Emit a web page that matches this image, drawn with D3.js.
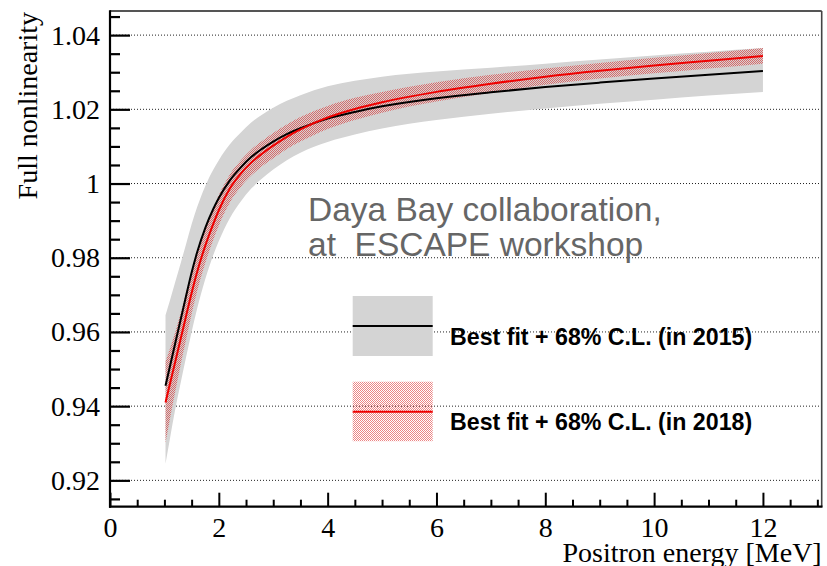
<!DOCTYPE html>
<html>
<head>
<meta charset="utf-8">
<script src="https://cdn.jsdelivr.net/npm/d3@7"></script>
<style>
  html, body { margin: 0; padding: 0; background: #fff; }
  svg { display: block; }
</style>
</head>
<body>
<svg id="chart" width="827" height="566"></svg>
<script>
// ---- data ----
const energy = [1.02,1.1,1.2,1.3,1.4,1.5,1.6,1.75,1.9,2.0,2.2,2.4,2.6,2.8,3.0,3.25,3.5,4,4.5,5,6,7,8,9,10,11,12];
const fit2015 = [0.9455,0.9506,0.9570,0.9634,0.9698,0.9760,0.9814,0.9880,0.9932,0.9961,1.0008,1.0043,1.0072,1.0094,1.0113,1.0133,1.0149,1.0175,1.0193,1.0208,1.0230,1.0246,1.0260,1.0272,1.0283,1.0293,1.0303];
const low2015 = [0.9245,0.9311,0.9392,0.9464,0.9533,0.9600,0.9662,0.9742,0.9808,0.9845,0.9906,0.9951,0.9987,1.0014,1.0038,1.0063,1.0083,1.0112,1.0132,1.0148,1.0171,1.0188,1.0202,1.0215,1.0226,1.0237,1.0247];
const high2015 = [0.9645,0.9684,0.9735,0.9786,0.9838,0.9890,0.9936,0.9993,1.0038,1.0063,1.0105,1.0137,1.0165,1.0186,1.0204,1.0223,1.0238,1.0262,1.0277,1.0288,1.0302,1.0312,1.0323,1.0334,1.0345,1.0355,1.0365];
const fit2018 = [0.9410,0.9459,0.9520,0.9582,0.9644,0.9705,0.9761,0.9832,0.9892,0.9928,0.9986,1.0026,1.0057,1.0081,1.0102,1.0126,1.0146,1.0178,1.0201,1.0219,1.0247,1.0269,1.0288,1.0304,1.0318,1.0331,1.0344];
const low2018 = [0.9300,0.9364,0.9440,0.9512,0.9581,0.9648,0.9709,0.9785,0.9849,0.9887,0.9948,0.9990,1.0022,1.0047,1.0068,1.0093,1.0113,1.0147,1.0171,1.0191,1.0221,1.0245,1.0266,1.0283,1.0297,1.0310,1.0323];
const high2018 = [0.9520,0.9554,0.9600,0.9652,0.9707,0.9762,0.9813,0.9879,0.9935,0.9969,1.0024,1.0062,1.0092,1.0115,1.0136,1.0159,1.0179,1.0209,1.0231,1.0247,1.0273,1.0293,1.0310,1.0325,1.0339,1.0352,1.0365];

const xTicks = [0,2,4,6,8,10,12];
const xTickLabels = ["0","2","4","6","8","10","12"];
const yTicks = [0.92,0.94,0.96,0.98,1.00,1.02,1.04];
const yTickLabels = ["0.92","0.94","0.96","0.98","1","1.02","1.04"];
const legendLabels = ["Best fit + 68% C.L. (in 2015)", "Best fit + 68% C.L. (in 2018)"];
const noteLines = ["Daya Bay collaboration,", "at  ESCAPE workshop"];
const xTitle = "Positron energy [MeV]";
const yTitle = "Full nonlinearity";

// ---- layout ----
const L = 110, T = 11, R = 821.7, B = 506.7;
const svg = d3.select("#chart");

const x = d3.scaleLinear().domain([0, 13.08]).range([L, R]);
const y = d3.scaleLinear().domain([0.9129, 1.0465]).range([B, T]);

const defs = svg.append("defs");
const pat = defs.append("pattern").attr("id", "hatch").attr("patternUnits", "userSpaceOnUse")
  .attr("width", 2).attr("height", 2);
pat.append("rect").attr("x", 0).attr("y", 0).attr("width", 1).attr("height", 1).attr("fill", "#dc2222");
pat.append("rect").attr("x", 1).attr("y", 1).attr("width", 1).attr("height", 1).attr("fill", "#dc2222");

const clip = defs.append("clipPath").attr("id", "plotclip");
clip.append("rect").attr("x", L).attr("y", T).attr("width", R - L).attr("height", B - T);

// gridlines (dotted)
svg.append("g").selectAll("line").data(yTicks).join("line")
  .attr("x1", L).attr("x2", R)
  .attr("y1", d => y(d)).attr("y2", d => y(d))
  .attr("stroke", "#222").attr("stroke-width", 1).attr("stroke-dasharray", "1,2");

const idx = d3.range(energy.length);
const plot = svg.append("g").attr("clip-path", "url(#plotclip)");

const area2015 = d3.area().x(i => x(energy[i])).y0(i => y(low2015[i])).y1(i => y(high2015[i])).curve(d3.curveMonotoneX);
const area2018 = d3.area().x(i => x(energy[i])).y0(i => y(low2018[i])).y1(i => y(high2018[i])).curve(d3.curveMonotoneX);
const line2015 = d3.line().x(i => x(energy[i])).y(i => y(fit2015[i])).curve(d3.curveMonotoneX);
const line2018 = d3.line().x(i => x(energy[i])).y(i => y(fit2018[i])).curve(d3.curveMonotoneX);

plot.append("path").attr("d", area2015(idx)).attr("fill", "#d4d4d4");
plot.append("path").attr("d", area2018(idx)).attr("fill", "url(#hatch)").attr("opacity", 0.6);
plot.append("path").attr("d", line2015(idx)).attr("fill", "none").attr("stroke", "#000").attr("stroke-width", 2);
plot.append("path").attr("d", line2018(idx)).attr("fill", "none").attr("stroke", "#ee0000").attr("stroke-width", 2);

// axes
const serif = "'Liberation Serif', 'Times New Roman', Times, serif";
const yMinor = d3.range(0.915, 1.0451, 0.005).filter(v => !yTicks.some(t => Math.abs(t - v) < 1e-6));
const xMinor = d3.range(0, 13.01, 0.5).filter(v => !xTicks.some(t => Math.abs(t - v) < 1e-6));

const yAxis = d3.axisLeft(y).tickValues(yTicks).tickFormat((d, i) => yTickLabels[i])
  .tickSizeInner(-20).tickSizeOuter(0).tickPadding(10);
const gy = svg.append("g").attr("transform", `translate(${L},0)`).call(yAxis)
  .attr("font-family", serif).attr("font-size", 28);
gy.select(".domain").remove();
gy.selectAll(".tick line").attr("stroke", "#000").attr("stroke-width", 2.2);
gy.selectAll(".tick text").style("font-family", serif).style("font-size", "28px").attr("fill", "#000");

const yAxisMinor = d3.axisLeft(y).tickValues(yMinor).tickFormat("").tickSizeInner(-10).tickSizeOuter(0);
const gym = svg.append("g").attr("transform", `translate(${L},0)`).call(yAxisMinor);
gym.select(".domain").remove();
gym.selectAll(".tick line").attr("stroke", "#000").attr("stroke-width", 2.2);

const xAxis = d3.axisBottom(x).tickValues(xTicks).tickFormat((d, i) => xTickLabels[i])
  .tickSizeInner(-14).tickSizeOuter(0).tickPadding(10);
const gx = svg.append("g").attr("transform", `translate(0,${B})`).call(xAxis)
  .attr("font-family", serif).attr("font-size", 28);
gx.select(".domain").remove();
gx.selectAll(".tick line").attr("stroke", "#000").attr("stroke-width", 2);
gx.selectAll(".tick text").style("font-family", serif).style("font-size", "28px").attr("fill", "#000");

const xAxisMinor = d3.axisBottom(x).tickValues(xMinor).tickFormat("").tickSizeInner(-7).tickSizeOuter(0);
const gxm = svg.append("g").attr("transform", `translate(0,${B})`).call(xAxisMinor);
gxm.select(".domain").remove();
gxm.selectAll(".tick line").attr("stroke", "#000").attr("stroke-width", 2);

// frame
svg.append("line").attr("x1", L).attr("x2", R).attr("y1", T).attr("y2", T).attr("stroke", "#555").attr("stroke-width", 1.8);
svg.append("line").attr("x1", R).attr("x2", R).attr("y1", T).attr("y2", B).attr("stroke", "#444").attr("stroke-width", 1.6);
svg.append("line").attr("x1", L).attr("x2", L).attr("y1", T - 0.8).attr("y2", B + 1).attr("stroke", "#000").attr("stroke-width", 2.2);
svg.append("line").attr("x1", L - 1).attr("x2", R + 0.8).attr("y1", B).attr("y2", B).attr("stroke", "#000").attr("stroke-width", 2.2);

// axis titles
svg.append("text").attr("x", R).attr("y", 562).attr("text-anchor", "end")
  .style("font-family", serif).style("font-size", "28px").attr("fill", "#000").text(xTitle);
svg.append("text").attr("transform", "translate(37,12) rotate(-90)").attr("text-anchor", "end")
  .style("font-family", serif).style("font-size", "28px").attr("fill", "#000").text(yTitle);

// annotation
const sans = "'Liberation Sans', Arial, Helvetica, sans-serif";
svg.append("g").selectAll("text").data(noteLines).join("text")
  .attr("x", 308).attr("y", (d, i) => 221 + i * 35)
  .style("font-family", sans).style("font-size", "33.5px").attr("fill", "#666")
  .style("white-space", "pre").attr("xml:space", "preserve")
  .text(d => d);

// legend
const leg = svg.append("g");
const boxX = 352.7, boxW = 80;
const boxY = [296, 381.7], boxH = [60, 59.5];
const lineY = [326, 411.7];
leg.append("rect").attr("x", boxX).attr("y", boxY[0]).attr("width", boxW).attr("height", boxH[0]).attr("fill", "#d4d4d4");
leg.append("rect").attr("x", boxX).attr("y", boxY[1]).attr("width", boxW).attr("height", boxH[1]).attr("fill", "url(#hatch)").attr("opacity", 0.55);
leg.append("line").attr("x1", boxX).attr("x2", boxX + boxW).attr("y1", lineY[0]).attr("y2", lineY[0]).attr("stroke", "#000").attr("stroke-width", 2);
leg.append("line").attr("x1", boxX).attr("x2", boxX + boxW).attr("y1", lineY[1]).attr("y2", lineY[1]).attr("stroke", "#ee0000").attr("stroke-width", 2);
leg.selectAll("text.lab").data(legendLabels).join("text").attr("class", "lab")
  .attr("x", 450).attr("y", (d, i) => [345, 430][i])
  .style("font-family", sans).style("font-weight", "bold").style("font-size", "23.2px").attr("fill", "#000")
  .text(d => d);
</script>
</body>
</html>
